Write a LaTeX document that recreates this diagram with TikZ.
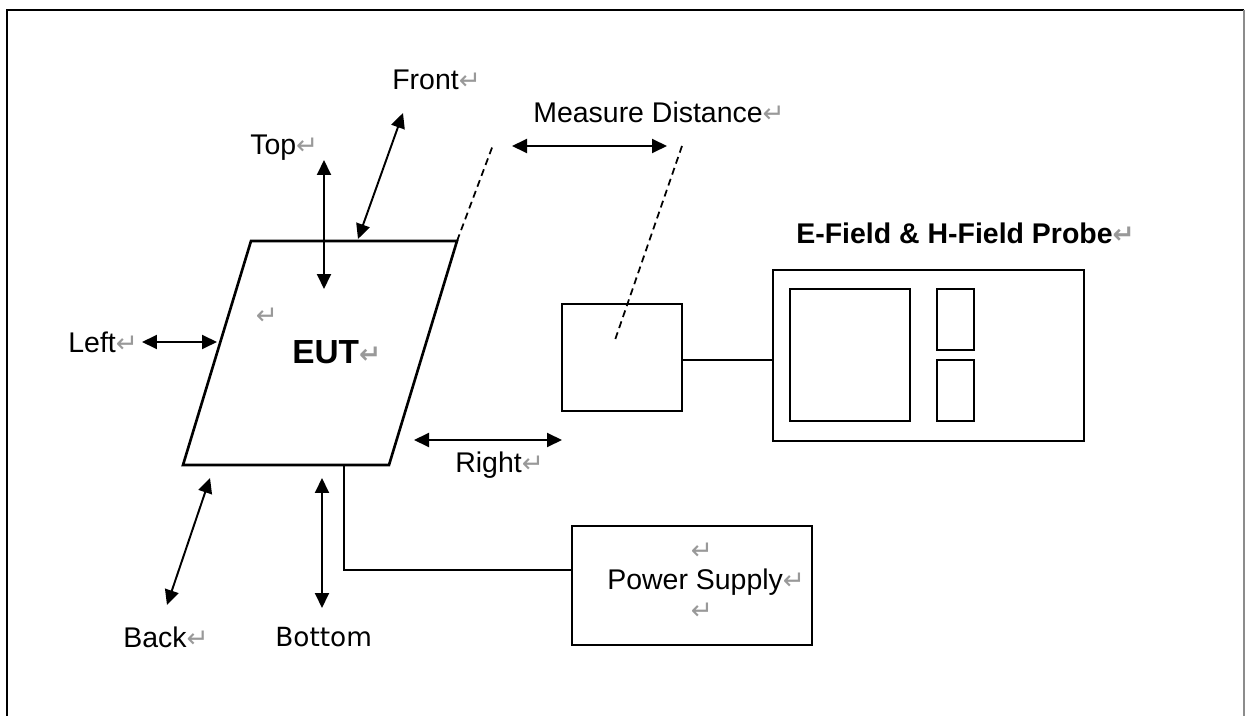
\documentclass[tikz,border=0pt]{standalone}
\usepackage{fontspec}
\setmainfont{Liberation Sans}
\newfontfamily\symfont{DejaVu Sans}
\usetikzlibrary{arrows.meta}
\newcommand{\retmark}{{\symfont\color{black!40}\fontsize{15pt}{15pt}\selectfont ↵}}
\begin{document}
\begin{tikzpicture}[x=0.02cm,y=-0.02cm,
  lbl/.style={inner sep=0pt,font=\fontsize{16.2pt}{19pt}\selectfont,anchor=west},
  blbl/.style={lbl,font=\fontsize{16.2pt}{19pt}\selectfont\bfseries},
  box/.style={draw,line width=1.4pt,inner sep=0pt},
  thinbox/.style={draw,line width=1.1pt,inner sep=0pt},
  dbl/.style={line width=1.1pt,{Triangle[length=0.3cm,width=0.28cm]}-{Triangle[length=0.3cm,width=0.28cm]}},
  dashln/.style={line width=1pt,dash pattern=on 4pt off 2.6pt},
  wire/.style={line width=1.1pt}]
\useasboundingbox (0,0) rectangle (1245,716);
% frame
\draw[line width=1.6pt] (7,716) -- (7,10) -- (1244,10);
\draw[black!45,line width=1pt] (1244,10) -- (1244,716);

% EUT
\coordinate (eTL) at (251,241);
\coordinate (eTR) at (457,241);
\coordinate (eBR) at (389,465);
\coordinate (eBL) at (183,465);
\draw[line width=1.5pt,line join=miter] (eTL) -- (eTR) -- (eBR) -- (eBL) -- cycle;
\node[lbl,font=\fontsize{19pt}{22pt}\selectfont\bfseries] (eut) at (292,352) {EUT\retmark};
\node[inner sep=0pt] (r0) at (267,316) {\retmark};

% boxes
\node[box,minimum width=2.4cm,minimum height=2.14cm] (sensor) at (622,357.5) {};
\node[box,minimum width=6.22cm,minimum height=3.42cm] (probe) at (928.5,355.5) {};
\node[thinbox,minimum width=2.4cm,minimum height=2.64cm] (scr) at (850,355) {};
\node[thinbox,minimum width=0.74cm,minimum height=1.22cm] (k1) at (955.5,319.5) {};
\node[thinbox,minimum width=0.74cm,minimum height=1.22cm] (k2) at (955.5,390.5) {};
\node[thinbox,minimum width=4.8cm,minimum height=2.38cm] (psu) at (692,585.5) {};
\node[blbl] (probelbl) at (796,233) {E-Field \& H-Field Probe\retmark};
\node[lbl] (psulbl) at (607,582) {Power Supply\retmark};
\node[inner sep=0pt] (r1) at (702,551) {\retmark};
\node[inner sep=0pt] (r2) at (702,611) {\retmark};

% connections
\draw[wire] (sensor.east |- 0,360) -- (probe.west |- 0,360);
\coordinate (pw) at (344,465);
\coordinate (pwc) at (344,570);
\draw[wire] (pw) -- (pwc) -- (pwc -| psu.west);

% dashed lines
\coordinate (d1) at (493,145);
\draw[dashln] (eTR) -- (d1);
\coordinate (d2a) at (682,146);
\coordinate (d2b) at (615,340);
\draw[dashln] (d2a) -- (d2b);

% direction arrows
\coordinate (topA) at (324,160); \coordinate (topB) at (324,289);
\draw[dbl] (topA) -- (topB);
\node[lbl] (toplbl) at (250,148) {Top\retmark};

\coordinate (frA) at (403,113); \coordinate (frB) at (358,239);
\draw[dbl] (frA) -- (frB);
\node[lbl] (frlbl) at (392,80) {Front\retmark};

\coordinate (lfA) at (142,342); \coordinate (lfB) at (217,342);
\draw[dbl] (lfA) -- (lfB);
\node[lbl] (lflbl) at (68,342) {Left\retmark};

\coordinate (rtA) at (414,440); \coordinate (rtB) at (562,440);
\draw[dbl] (rtA) -- (rtB);
\node[lbl] (rtlbl) at (455,465) {Right\retmark};

\coordinate (bkA) at (210,478); \coordinate (bkB) at (167,605);
\draw[dbl] (bkA) -- (bkB);
\node[lbl] (bklbl) at (123,637) {Back\retmark};

\coordinate (btA) at (322,478); \coordinate (btB) at (322,608);
\draw[dbl] (btA) -- (btB);
\node[lbl,font=\symfont\fontsize{15pt}{18pt}\selectfont] (btlbl) at (275,637) {Bottom};

\coordinate (mdA) at (512,146); \coordinate (mdB) at (667,146);
\draw[dbl] (mdA) -- (mdB);
\node[lbl] (mdlbl) at (533,112) {Measure Distance\retmark};
\end{tikzpicture}
\end{document}
